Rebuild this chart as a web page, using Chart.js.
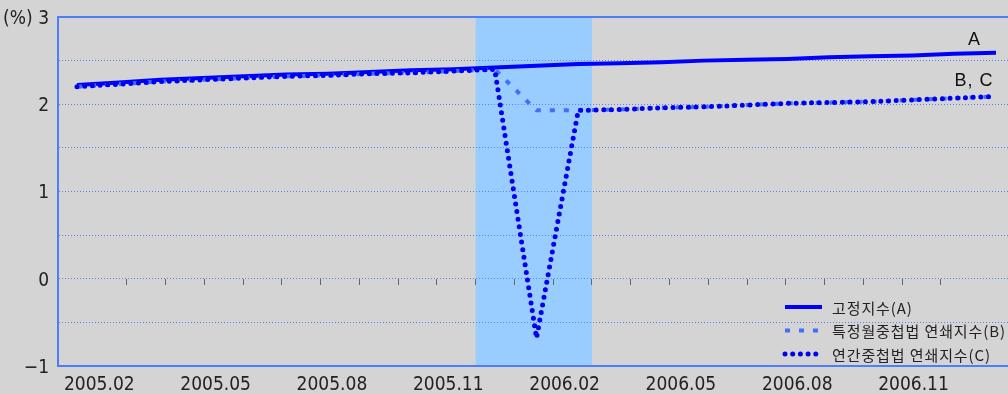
<!DOCTYPE html>
<html>
<head>
<meta charset="utf-8">
<script src="https://cdn.jsdelivr.net/npm/chart.js@4"></script>
<style>
    html, body { margin: 0; padding: 0; background: #d4d4d4; }
    #wrap { width: 1008px; height: 394px; }
</style>
</head>
<body>
<div id="wrap"><canvas id="myChart" width="1008" height="394"></canvas></div>
<script>
// values (%), one point per period
const fixedIndex = [2.22, 2.25, 2.28, 2.30, 2.32, 2.34, 2.35, 2.37, 2.39, 2.40, 2.42, 2.44, 2.46, 2.47, 2.48, 2.50, 2.51, 2.52, 2.54, 2.55, 2.56, 2.58, 2.59]
const monthChain = [2.20, 2.23, 2.26, 2.28, 2.30, 2.32, 2.33, 2.35, 2.36, 2.38, 2.40, 1.93, 1.93, 1.94, 1.96, 1.97, 1.99, 2.01, 2.02, 2.03, 2.05, 2.07, 2.09]
const yearChain  = [2.20, 2.23, 2.26, 2.28, 2.30, 2.32, 2.33, 2.35, 2.36, 2.38, 2.40, -0.68, 1.93, 1.94, 1.96, 1.97, 1.99, 2.01, 2.02, 2.03, 2.05, 2.07, 2.09]

const seriesNames = ['고정지수(A)', '특정월중첩법 연쇄지수(B)', '연간중첩법 연쇄지수(C)']
const endLabels = ['A', 'B, C']
const tickLabels = ['2005.02', '2005.05', '2005.08', '2005.11', '2006.02', '2006.05', '2006.08', '2006.11']
const yUnit = '(%)'

// month axis: integer = month boundary, label sits mid-month
const monthMin = 0.228
const monthMax = 24.73
const shadeMonths = [11, 14]   // 2005.12 ~ 2006.02

const axisBlue = '#4f7df5'
const gridBlue = '#5a82f0'

const toPoints = arr => arr.map((v, i) => ({ x: i, y: v }))

const shadePlugin = {
    id: 'shade',
    beforeDraw(chart) {
        const { ctx, chartArea } = chart
        const xm = chart.scales.xm
        const x1 = xm.getPixelForValue(shadeMonths[0])
        const x2 = xm.getPixelForValue(shadeMonths[1])
        ctx.save()
        ctx.fillStyle = '#99ccff'
        ctx.fillRect(x1, chartArea.top, x2 - x1, chartArea.bottom - chartArea.top)
        ctx.restore()
    }
}

const labelPlugin = {
    id: 'labels',
    afterDatasetsDraw(chart) {
        const { ctx, chartArea } = chart
        const xs = chart.scales.x
        const ys = chart.scales.y
        const last = fixedIndex.length - 1
        const xEnd = xs.getPixelForValue(last) - 22

        ctx.save()
        ctx.fillStyle = '#111'
        ctx.font = '18px "Liberation Sans", Arial, sans-serif'
        ctx.textAlign = 'center'
        ctx.textBaseline = 'middle'
        ctx.fillText(endLabels[0], xEnd, ys.getPixelForValue(fixedIndex[last]) - 13)
        ctx.letterSpacing = '1px'
        ctx.fillText(endLabels[1], xEnd, ys.getPixelForValue(yearChain[last]) - 15)

        // legend, bottom right of the plot
        const lx0 = chartArea.right - 223
        const lx1 = chartArea.right - 186
        const tx = chartArea.right - 176
        const ly = chartArea.bottom - 59
        ctx.textAlign = 'left'
        ctx.font = '15px "Noto Sans CJK KR", sans-serif'
        ctx.letterSpacing = '0.9px'
        chart.data.datasets.forEach((ds, i) => {
            const y = ly + i * 23.5
            ctx.strokeStyle = ds.borderColor
            ctx.lineWidth = ds.borderWidth
            ctx.lineCap = ds.borderCapStyle || 'butt'
            ctx.setLineDash(ds.borderDash || [])
            ctx.beginPath()
            ctx.moveTo(lx0, y)
            ctx.lineTo(lx1, y)
            ctx.stroke()
            ctx.setLineDash([])
            ctx.fillStyle = '#222'
            ctx.fillText(ds.label, tx, y + 1)
        })
        ctx.restore()
    }
}

const lineBase = {
    fill: false,
    tension: 0,
    pointRadius: 0,
    pointHoverRadius: 0,
    xAxisID: 'x',
    yAxisID: 'y'
}

const datasets = [
    { ...lineBase, label: seriesNames[0], data: toPoints(fixedIndex), borderColor: '#0000ff', borderWidth: 4, order: 3 },
    { ...lineBase, label: seriesNames[1], data: toPoints(monthChain), borderColor: '#3f6fff', borderWidth: 4, borderDash: [5, 9], order: 2 },
    { ...lineBase, label: seriesNames[2], data: toPoints(yearChain), borderColor: '#0000f0', borderWidth: 5, borderDash: [0, 7.7], borderCapStyle: 'round', order: 1 }
]

const tickFont = { family: '"DejaVu Sans Condensed", "Liberation Sans Narrow", Arial, sans-serif', size: 19 }

const config = {
    type: 'line',
    data: { datasets: datasets },
    options: {
        responsive: false,
        animation: false,
        devicePixelRatio: 1,
        layout: { padding: { top: 17, right: 0, bottom: 0, left: 0 } },
        plugins: {
            legend: { display: false },
            tooltip: { enabled: false }
        },
        scales: {
            x: {
                type: 'linear',
                min: -0.455,
                max: 22.287,
                display: false
            },
            xm: {
                type: 'linear',
                position: 'bottom',
                min: monthMin,
                max: monthMax,
                afterBuildTicks: s => { s.ticks = tickLabels.map((t, k) => ({ value: 1.5 + 3 * k })) },
                afterFit: s => { s.height = 28 },
                ticks: {
                    autoSkip: false,
                    maxRotation: 0,
                    labelOffset: -8,
                    padding: 8,
                    color: '#222',
                    font: tickFont,
                    callback: (v, i) => tickLabels[i]
                },
                grid: { display: false, drawTicks: false },
                border: { display: true, color: axisBlue, width: 2 }
            },
            xt: {
                type: 'linear',
                position: { y: 0 },
                min: monthMin,
                max: monthMax,
                afterBuildTicks: s => {
                    const t = []
                    for (let m = 2; m <= 23; m++) t.push({ value: m })
                    s.ticks = t
                },
                ticks: { display: false, autoSkip: false },
                grid: { drawOnChartArea: false, drawTicks: true, tickLength: 6, tickColor: '#666', tickWidth: 1 },
                border: { display: false }
            },
            xtop: {
                type: 'linear',
                position: 'top',
                min: monthMin,
                max: monthMax,
                afterFit: s => { s.height = 0 },
                ticks: { display: false },
                grid: { display: false, drawTicks: false },
                border: { display: true, color: axisBlue, width: 2 }
            },
            y: {
                min: -1,
                max: 3,
                afterFit: s => { s.width = 58 },
                ticks: {
                    stepSize: 0.5,
                    padding: 0,
                    labelOffset: 2,
                    color: '#222',
                    font: tickFont,
                    callback: v => {
                        if (!Number.isInteger(v)) return ''
                        if (v === 3) return yUnit + ' 3'
                        return v < 0 ? '\u2212' + Math.abs(v) : String(v)
                    }
                },
                grid: { color: gridBlue, lineWidth: 1, drawTicks: true, tickLength: 9, tickColor: 'rgba(0,0,0,0)' },
                border: { display: true, color: axisBlue, width: 2, dash: [1, 2] }
            }
        }
    },
    plugins: [shadePlugin, labelPlugin]
}

const ctx = document.getElementById('myChart').getContext('2d')
const myChart = new Chart(ctx, config)
</script>
</body>
</html>
